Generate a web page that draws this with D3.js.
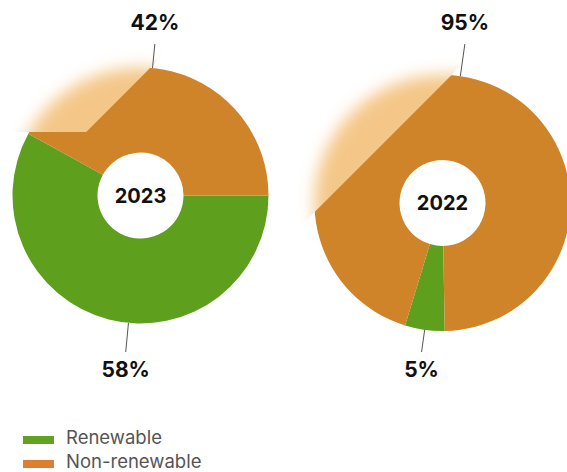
<!DOCTYPE html>
<html>
<head>
<meta charset="utf-8">
<script src="https://cdn.jsdelivr.net/npm/d3@7"></script>
<style>
  html, body { margin: 0; padding: 0; background: #fff; }
  svg { display: block; font-family: Inter, Roboto, "Noto Sans", sans-serif; }
</style>
</head>
<body>
<svg id="chart" width="567" height="472"></svg>
<script>
// Energy mix by year
const years = ["2023", "2022"];
const categories = ["Renewable", "Non-renewable"];
const renewable = [58, 5];
const nonRenewable = [42, 95];

const colors = ["#5e9f1e", "#cf842a"];
const legendColors = ["#5fa321", "#dc7f31"];

// layout
const outerR = 128, innerR = 43;
const centers = [[140.5, 195.5], [442.5, 203]];
const startDeg = [90, 179];
const labelShiftDeg = [-9, 0];
const labelRowTop = 22, labelRowBottom = 369;
const leaderTop = 44, leaderBottom = 352;

const svg = d3.select("#chart");
const defs = svg.append("defs");

const blur = defs.append("filter").attr("id", "soft")
  .attr("x", "-30%").attr("y", "-30%").attr("width", "160%").attr("height", "160%");
blur.append("feGaussianBlur").attr("stdDeviation", 8);

const color = d3.scaleOrdinal().domain(categories).range(colors);
const arc = d3.arc().innerRadius(innerR).outerRadius(outerR);

years.forEach((year, i) => {
  const [cx, cy] = centers[i];
  const values = [renewable[i], nonRenewable[i]];
  const data = categories.map((c, k) => ({ category: c, value: values[k] }));
  const a0 = startDeg[i] * Math.PI / 180;
  const pie = d3.pie().sort(null).value(d => d.value)
    .startAngle(a0).endAngle(a0 + 2 * Math.PI);
  const arcs = pie(data);

  // the ring is drawn solid below a diagonal cut and washed out above it
  const R = outerR + 60;
  const solid = i === 0
    ? [[-R, -63.5], [-54.5, -63.5], [-54.5 + 1.5 * R, -63.5 - 1.5 * R], [R, -R * 1.5], [R, R], [-R, R]]
    : [[-R, -119 + R], [-119 + R * 1.2, -R * 1.2], [R, -R * 1.2], [R, R], [-R, R]];
  const faded = i === 0
    ? [[-R, -63.5], [-54.5, -63.5], [-54.5 + 1.5 * R, -63.5 - 1.5 * R], [-R, -R * 1.5]]
    : [[-R, -119 + R], [-119 + R * 1.2, -R * 1.2], [-R, -R * 1.2]];
  const toPts = p => p.map(q => q.join(",")).join(" ");
  defs.append("clipPath").attr("id", "solid" + i).append("polygon").attr("points", toPts(solid));
  defs.append("clipPath").attr("id", "faded" + i).append("polygon").attr("points", toPts(faded));

  const g = svg.append("g").attr("transform", `translate(${cx},${cy})`);

  g.append("g").attr("clip-path", `url(#faded${i})`)
    .append("g").attr("filter", "url(#soft)").attr("opacity", 0.6)
    .selectAll("path").data(arcs).join("path")
    .attr("d", arc).attr("fill", (d, k) => k === 0 && i === 0 ? "#d0b03a" : "#eda23a");

  g.append("g").attr("clip-path", `url(#solid${i})`)
    .selectAll("path").data(arcs).join("path")
    .attr("d", arc).attr("fill", d => color(d.data.category));

  // value labels with leader lines, set on a top and a bottom row
  arcs.forEach(d => {
    const m = (d.startAngle + d.endAngle) / 2 + labelShiftDeg[i] * Math.PI / 180;
    const sx = Math.sin(m), sy = -Math.cos(m);
    const top = sy < 0;
    const yEnd = (top ? leaderTop : leaderBottom) - cy;
    const t = yEnd / sy;
    g.append("line")
      .attr("x1", sx * outerR).attr("y1", sy * outerR)
      .attr("x2", sx * t).attr("y2", yEnd)
      .attr("stroke", "#555").attr("stroke-width", 1);
    g.append("text")
      .attr("x", sx * t).attr("y", (top ? labelRowTop : labelRowBottom) - cy)
      .attr("text-anchor", "middle").attr("dominant-baseline", "central")
      .attr("font-size", 21).attr("font-weight", 700).attr("fill", "#111")
      .text(d.data.value + "%");
  });

  g.append("text")
    .attr("text-anchor", "middle").attr("dominant-baseline", "central")
    .attr("font-size", 20).attr("font-weight", 700).attr("fill", "#111")
    .text(year);
});

// legend
const legend = svg.append("g").attr("transform", "translate(23,436)");
categories.forEach((c, k) => {
  const row = legend.append("g").attr("transform", `translate(0,${k * 24})`);
  row.append("rect").attr("width", 31).attr("height", 8).attr("fill", legendColors[k]);
  row.append("text").attr("x", 43).attr("y", 8)
    .attr("font-size", 18.5).attr("fill", "#555").text(c);
});
</script>
</body>
</html>
